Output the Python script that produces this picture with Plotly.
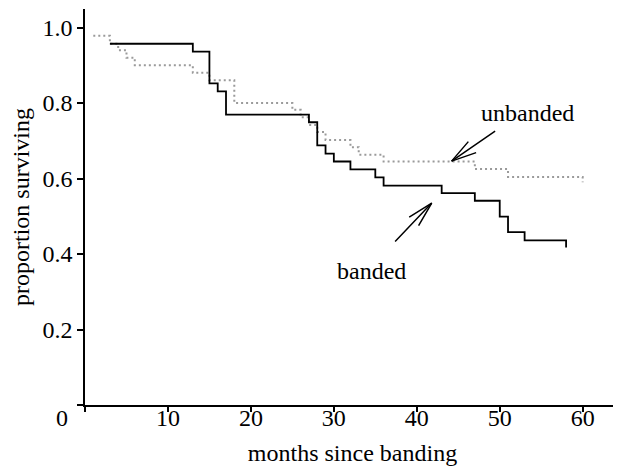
import plotly.graph_objects as go

# unbanded (grey dotted) Kaplan-Meier steps
unb_months = [1, 3, 4, 5, 6, 13, 15, 18, 25, 26, 27, 28, 29, 32, 33, 36, 47, 51, 60, 60]
unb_surv = [0.978, 0.957, 0.94, 0.92, 0.90, 0.88, 0.86, 0.80, 0.782, 0.762, 0.742, 0.723,
            0.702, 0.683, 0.663, 0.645, 0.625, 0.604, 0.604, 0.59]

# banded (black solid) Kaplan-Meier steps
ban_months = [3, 13, 15, 16, 17, 27, 28, 29, 30, 32, 35, 36, 43, 47, 50, 51, 53, 58, 58]
ban_surv = [0.957, 0.936, 0.852, 0.831, 0.769, 0.749, 0.688, 0.666, 0.645, 0.624, 0.603,
            0.581, 0.561, 0.541, 0.499, 0.458, 0.436, 0.436, 0.417]

x_ticks = [0, 10, 20, 30, 40, 50, 60]
x_ticktext = ["", "10", "20", "30", "40", "50", "60"]
y_ticks = [0, 0.2, 0.4, 0.6, 0.8, 1.0]
y_ticktext = ["", "0.2", "0.4", "0.6", "0.8", "1.0"]

FONT = "Liberation Serif"
FS = 24

fig = go.Figure()
fig.add_trace(go.Scatter(x=unb_months, y=unb_surv, mode="lines", line_shape="hv",
                         line=dict(color="#9a9a9a", width=2, dash="2px,3px"),
                         name="unbanded", showlegend=False))
fig.add_trace(go.Scatter(x=ban_months, y=ban_surv, mode="lines", line_shape="hv",
                         line=dict(color="black", width=1.8),
                         name="banded", showlegend=False))

ann = []
# labels
ann.append(dict(x=53.4, y=0.773, text="unbanded", showarrow=False,
                font=dict(family=FONT, size=FS, color="black")))
ann.append(dict(x=34.5, y=0.354, text="banded", showarrow=False,
                font=dict(family=FONT, size=FS, color="black")))
# arrows (shaft + two barbs)
for tip, offs in [((44.2, 0.646), [(45, -31), (18, -21), (26, -9)]),
                  ((41.8, 0.535), [(-38, 40), (-24, 15), (-14, 24)])]:
    for ax, ay in offs:
        ann.append(dict(x=tip[0], y=tip[1], ax=ax, ay=ay, text="", showarrow=True,
                        arrowhead=0, arrowwidth=1.5, arrowcolor="black", standoff=0))
# origin label
ann.append(dict(xref="paper", yref="paper", x=0, y=0, xshift=-23, yshift=-13, text="0",
                xanchor="center", yanchor="middle", showarrow=False,
                font=dict(family=FONT, size=FS, color="black")))

# page body has an 8px default margin; size the figure so it fits the 621x466 window
fig.update_layout(
    width=613, height=458,
    margin=dict(l=77, r=1, t=1, b=61),
    plot_bgcolor="white", paper_bgcolor="white",
    font=dict(family=FONT, size=FS, color="black"),
    annotations=ann,
)
fig.update_xaxes(range=[0, 64.5], tickvals=x_ticks, ticktext=x_ticktext, automargin=False,
                 showline=True, linecolor="black", linewidth=1.5,
                 ticks="outside", ticklen=5, tickwidth=1.5, tickcolor="black",
                 showgrid=False, zeroline=False, ticklabelstandoff=-15,
                 tickfont=dict(family=FONT, size=FS),
                 title=dict(text="months since banding", font=dict(family=FONT, size=FS), standoff=19))
fig.update_yaxes(range=[0, 1.049], tickvals=y_ticks, ticktext=y_ticktext, automargin=False,
                 showline=True, linecolor="black", linewidth=1.5,
                 ticks="outside", ticklen=6, tickwidth=1.5, tickcolor="black",
                 showgrid=False, zeroline=False, ticklabelstandoff=0,
                 tickfont=dict(family=FONT, size=FS),
                 title=dict(text="proportion surviving", font=dict(family=FONT, size=FS), standoff=10))

fig.write_html("out.html")
